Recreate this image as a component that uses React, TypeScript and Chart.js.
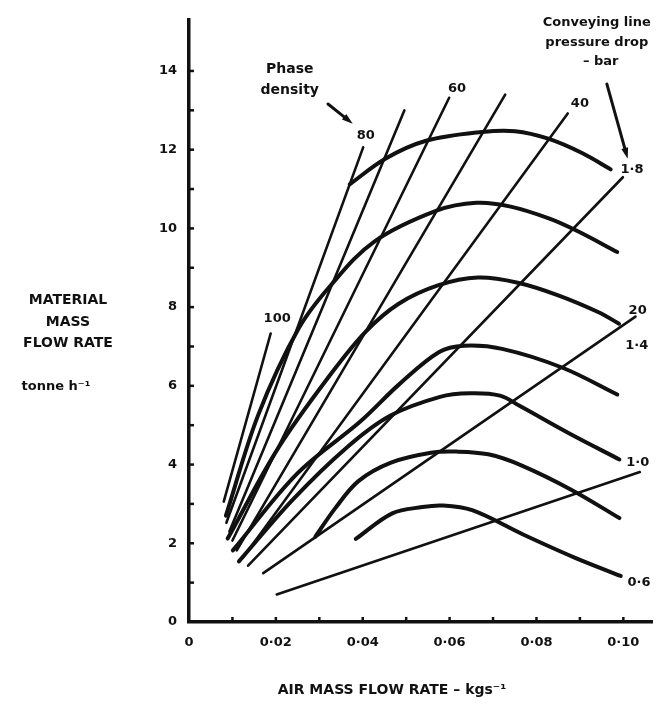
import React, { useEffect, useRef } from 'react';
import { Chart, registerables } from 'chart.js';

Chart.register(...registerables);

// ---- Data ----
// Air mass flow rate (kg/s) and material mass flow rate (tonne/h) along each constant pressure-drop curve (bar)
const pressureDrops = ['1·8', '1·6', '1·4', '1·2', '1·0', '0·8', '0·6'];

const dp18Air = [0.0370, 0.0452, 0.0544, 0.0675, 0.0751, 0.0827, 0.0906, 0.0971];
const dp18Mat = [11.12, 11.77, 12.22, 12.45, 12.47, 12.28, 11.91, 11.50];

const dp16Air = [0.0085, 0.0159, 0.0252, 0.0326, 0.0426, 0.0570, 0.0662, 0.0738, 0.0830, 0.0893, 0.0986];
const dp16Mat = [2.70, 5.25, 7.45, 8.55, 9.66, 10.45, 10.65, 10.56, 10.25, 9.94, 9.40];

const dp14Air = [0.0089, 0.0206, 0.0330, 0.0407, 0.0482, 0.0573, 0.0665, 0.0757, 0.0850, 0.0943, 0.0990];
const dp14Mat = [2.12, 4.43, 6.35, 7.38, 8.08, 8.55, 8.75, 8.62, 8.30, 7.87, 7.58];

const dp12Air = [0.0101, 0.0249, 0.0395, 0.0485, 0.0576, 0.0633, 0.0721, 0.0860, 0.0986];
const dp12Mat = [1.82, 3.77, 5.10, 6.05, 6.86, 7.02, 6.94, 6.46, 5.78];

const dp10Air = [0.0115, 0.0239, 0.0366, 0.0463, 0.0578, 0.0647, 0.0716, 0.0763, 0.0879, 0.0991];
const dp10Mat = [1.54, 3.11, 4.46, 5.24, 5.72, 5.81, 5.75, 5.48, 4.77, 4.13];

const dp08Air = [0.0291, 0.0336, 0.0390, 0.0465, 0.0557, 0.0615, 0.0689, 0.0765, 0.0882, 0.0991];
const dp08Mat = [2.17, 2.88, 3.58, 4.05, 4.30, 4.33, 4.26, 3.98, 3.35, 2.64];

const dp06Air = [0.0384, 0.0468, 0.0537, 0.0583, 0.0652, 0.0768, 0.0885, 0.0994];
const dp06Mat = [2.11, 2.76, 2.92, 2.96, 2.84, 2.23, 1.65, 1.17];

// Constant phase-density lines: lower and upper end points
const phaseDensities = [100, 80, 70, 60, 50, 40, 30, 20, 10];
const densityLowAir = [0.0080, 0.0086, 0.0093, 0.0100, 0.0110, 0.0124, 0.0136, 0.0171, 0.0202];
const densityLowMat = [3.06, 2.52, 2.30, 2.07, 1.82, 1.63, 1.43, 1.24, 0.70];
const densityHighAir = [0.0188, 0.0401, 0.0496, 0.0599, 0.0728, 0.0872, 0.0999, 0.1028, 0.1038];
const densityHighMat = [7.33, 12.06, 13.00, 13.32, 13.40, 12.92, 11.30, 7.76, 3.81];

// Tick labels
const xTickLabels = ['0', '0·02', '0·04', '0·06', '0·08', '0·10'];
const yTickLabels = ['0', '2', '4', '6', '8', '10', '12', '14'];

// Text written inside the plot (data coordinates)
const chartNotes = [
  { text: 'Phase', x: 0.0232, y: 14.05, size: 14 },
  { text: 'density', x: 0.0232, y: 13.52, size: 14 },
  { text: '100', x: 0.0203, y: 7.72, size: 13 },
  { text: '80', x: 0.0407, y: 12.35, size: 13 },
  { text: '60', x: 0.0617, y: 13.54, size: 13 },
  { text: '40', x: 0.0900, y: 13.16, size: 13 },
  { text: '20', x: 0.1033, y: 7.90, size: 13 },
  { text: '1·8', x: 0.1020, y: 11.49, size: 13 },
  { text: '1·4', x: 0.1031, y: 7.01, size: 13 },
  { text: '1·0', x: 0.1033, y: 4.05, size: 13 },
  { text: '0·6', x: 0.1036, y: 0.99, size: 13 },
  { text: 'Conveying line', x: 0.0939, y: 15.24, size: 13 },
  { text: 'pressure drop', x: 0.0939, y: 14.73, size: 13 },
  { text: '– bar', x: 0.0948, y: 14.23, size: 13 },
];
const noteArrows = [
  { x1: 0.0320, y1: 13.16, x2: 0.0377, y2: 12.66 },
  { x1: 0.0962, y1: 13.67, x2: 0.1010, y2: 11.77 },
];

const yTitleLines = ['MATERIAL', 'MASS', 'FLOW RATE'];
const yUnit = 'tonne h⁻¹';
const xTitle = 'AIR MASS FLOW RATE – kgs⁻¹';

const INK = '#111111';
const FONT = '"DejaVu Sans", "Liberation Sans", sans-serif';

const toPoints = (xs: number[], ys: number[]) => xs.map((x, i) => ({ x, y: ys[i] }));

const curveSeries = [
  [dp18Air, dp18Mat],
  [dp16Air, dp16Mat],
  [dp14Air, dp14Mat],
  [dp12Air, dp12Mat],
  [dp10Air, dp10Mat],
  [dp08Air, dp08Mat],
  [dp06Air, dp06Mat],
];

const nearInt = (v: number) => Math.abs(v - Math.round(v)) < 1e-3;

const notesPlugin = {
  id: 'notes',
  afterDraw(chart: any) {
    const { ctx } = chart;
    const xs = chart.scales.x;
    const ys = chart.scales.y;
    ctx.save();
    ctx.strokeStyle = INK;
    ctx.fillStyle = INK;
    ctx.lineCap = 'butt';
    // inward tick marks
    ctx.lineWidth = 2.5;
    xs.ticks.forEach((t: any) => {
      const k = t.value * 100;
      if (!nearInt(k) || Math.round(k) === 0) return;
      const px = xs.getPixelForValue(t.value);
      ctx.beginPath();
      ctx.moveTo(px, ys.bottom);
      ctx.lineTo(px, ys.bottom - 5);
      ctx.stroke();
    });
    ys.ticks.forEach((t: any) => {
      const v = t.value;
      if (!nearInt(v) || v <= 0 || v > 14.5) return;
      const py = ys.getPixelForValue(v);
      ctx.beginPath();
      ctx.moveTo(xs.left, py);
      ctx.lineTo(xs.left + 5, py);
      ctx.stroke();
    });

    // notes
    ctx.textAlign = 'center';
    ctx.textBaseline = 'middle';
    chartNotes.forEach((n) => {
      ctx.font = `bold ${n.size}px ${FONT}`;
      ctx.fillText(n.text, xs.getPixelForValue(n.x), ys.getPixelForValue(n.y));
    });

    // arrows
    ctx.lineWidth = 3;
    ctx.lineCap = 'round';
    noteArrows.forEach((a) => {
      const x1 = xs.getPixelForValue(a.x1);
      const y1 = ys.getPixelForValue(a.y1);
      const x2 = xs.getPixelForValue(a.x2);
      const y2 = ys.getPixelForValue(a.y2);
      const ang = Math.atan2(y2 - y1, x2 - x1);
      const headLen = 11;
      const headW = 3.5;
      const bx = x2 - headLen * Math.cos(ang);
      const by = y2 - headLen * Math.sin(ang);
      ctx.beginPath();
      ctx.moveTo(x1, y1);
      ctx.lineTo(bx, by);
      ctx.stroke();
      ctx.beginPath();
      ctx.moveTo(x2, y2);
      ctx.lineTo(bx + headW * Math.sin(ang), by - headW * Math.cos(ang));
      ctx.lineTo(bx - headW * Math.sin(ang), by + headW * Math.cos(ang));
      ctx.closePath();
      ctx.fill();
    });

    // axis titles
    ctx.font = `bold 14px ${FONT}`;
    const yTitleY = [300, 322, 343];
    yTitleLines.forEach((t, i) => ctx.fillText(t, 68, yTitleY[i]));
    ctx.font = `bold 13px ${FONT}`;
    ctx.fillText(yUnit, 56, 387);
    ctx.font = `bold 14px ${FONT}`;
    ctx.fillText(xTitle, 392, 690);
    ctx.restore();
  },
};

export default function App() {
  const canvasRef = useRef<HTMLCanvasElement | null>(null);

  useEffect(() => {
    const canvas = canvasRef.current;
    if (!canvas) return;

    const curveDatasets = curveSeries.map(([xv, yv], i) => ({
      label: `${pressureDrops[i]} bar`,
      data: toPoints(xv, yv),
      borderColor: INK,
      borderWidth: 4,
      pointRadius: 0,
      fill: false,
      tension: 0.35,
      borderCapStyle: 'round' as const,
      borderJoinStyle: 'round' as const,
    }));

    const lineDatasets = phaseDensities.map((d, i) => ({
      label: `phase density ${d}`,
      data: [
        { x: densityLowAir[i], y: densityLowMat[i] },
        { x: densityHighAir[i], y: densityHighMat[i] },
      ],
      borderColor: INK,
      borderWidth: 2.6,
      pointRadius: 0,
      fill: false,
      tension: 0,
      borderCapStyle: 'round' as const,
    }));

    const chart = new Chart(canvas, {
      type: 'line',
      data: { datasets: [...lineDatasets, ...curveDatasets] as any },
      options: {
        responsive: false,
        animation: false,
        events: [],
        layout: { padding: { top: 17, right: 4, left: 0, bottom: 0 } },
        plugins: {
          legend: { display: false },
          tooltip: { enabled: false },
          title: { display: false },
        },
        scales: {
          x: {
            type: 'linear',
            min: 0,
            max: 0.1066,
            afterFit: (s: any) => {
              s.height = 83;
            },
            grid: { display: false, drawTicks: false },
            border: { display: true, color: INK, width: 3.5 },
            ticks: {
              stepSize: 0.01,
              includeBounds: false,
              autoSkip: false,
              maxRotation: 0,
              padding: 13,
              color: INK,
              font: { family: FONT, size: 13, weight: 'bold' },
              callback: (v: any) => {
                const k = Number(v) * 100;
                const r = Math.round(k);
                if (!nearInt(k) || r % 2 !== 0) return '';
                return xTickLabels[r / 2] ?? '';
              },
            },
          },
          y: {
            type: 'linear',
            min: 0,
            max: 15.3,
            afterFit: (s: any) => {
              s.width = 189;
            },
            grid: { display: false, drawTicks: false },
            border: { display: true, color: INK, width: 3.5 },
            ticks: {
              stepSize: 1,
              includeBounds: false,
              autoSkip: false,
              padding: 12,
              color: INK,
              font: { family: FONT, size: 13, weight: 'bold' },
              callback: (v: any) => {
                const n = Number(v);
                const r = Math.round(n);
                if (!nearInt(n) || r % 2 !== 0) return '';
                return yTickLabels[r / 2] ?? '';
              },
            },
          },
        },
      } as any,
      plugins: [notesPlugin],
    });

    return () => chart.destroy();
  }, []);

  return (
    <div style={{ position: 'absolute', left: 0, top: 0, width: 656, height: 705, background: '#fff' }}>
      <canvas ref={canvasRef} width={656} height={705} style={{ display: 'block' }} />
    </div>
  );
}
